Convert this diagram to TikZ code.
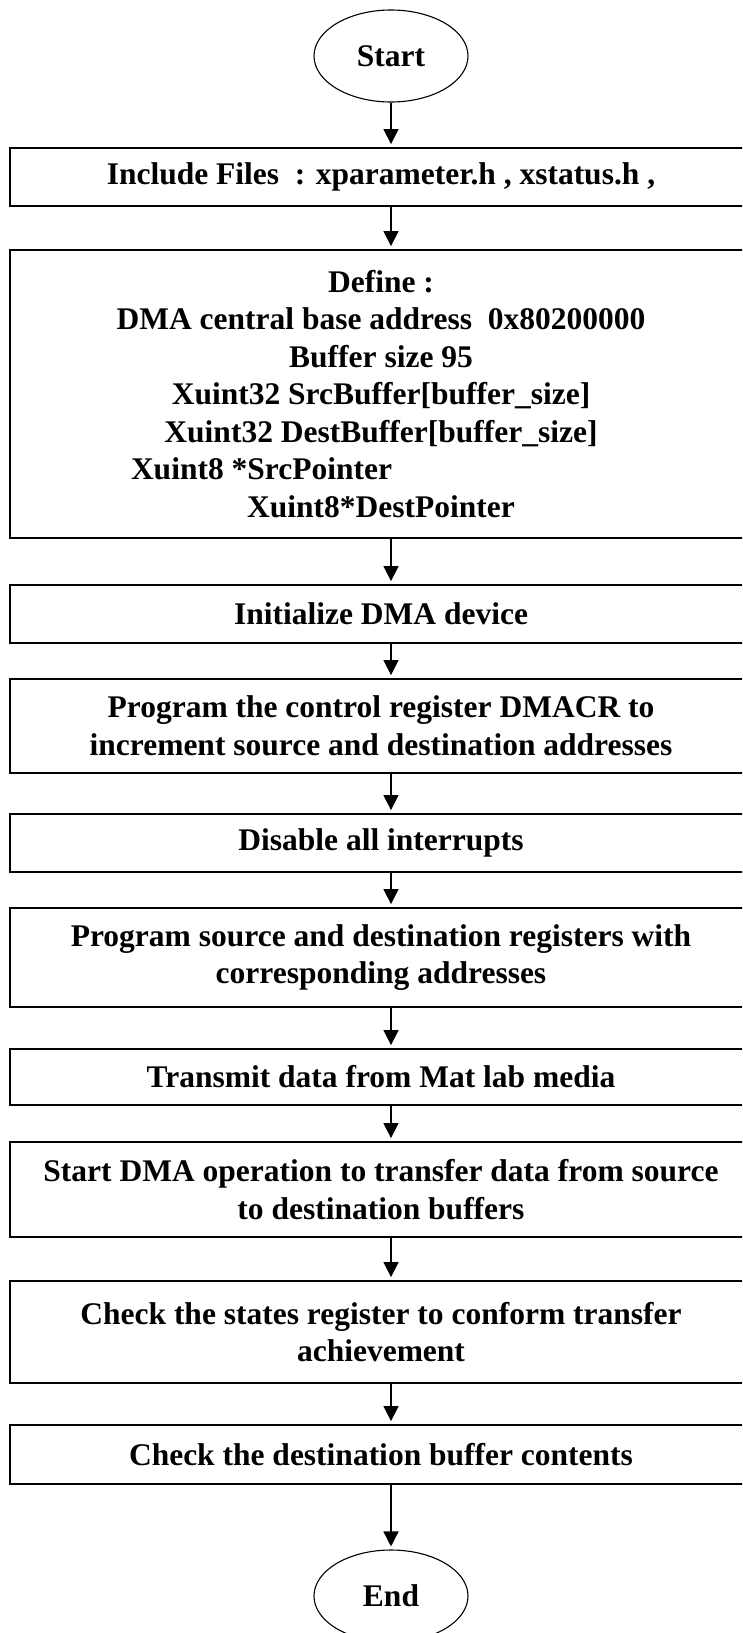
\documentclass[tikz,border=0pt]{standalone}
\usepackage{fontspec}
\setmainfont{Liberation Serif}
\usetikzlibrary{shapes.geometric,arrows.meta}
\begin{document}
\begin{tikzpicture}[x=1pt,y=1pt,
  txt/.style={font=\fontsize{31.5}{37.5}\selectfont\bfseries},
  boxnode/.style={txt,draw,line width=1.8pt,rectangle,minimum width=742pt,inner sep=0pt,align=center},
  term/.style={txt,draw,line width=1.1pt,ellipse,minimum width=154pt,minimum height=92pt,inner sep=0pt},
  arr/.style={line width=1.4pt,-{Triangle[length=15pt,width=15pt]},shorten >=3pt}]
\useasboundingbox (0,0) rectangle (742,-1633);
\clip (0,0) rectangle (742,-1633);
\node[term] (start) at (391,-56) {Start};
\node[boxnode,minimum height=58pt] (b1) at (381,-177) {Include Files\ \ : xparameter.h , xstatus.h ,};
\node[boxnode,minimum height=288pt] (b2) at (381,-394) {Define :\\
DMA central base address\ \ 0x80200000\\
Buffer size 95\\
Xuint32 SrcBuffer[buffer\_size]\\
Xuint32 DestBuffer[buffer\_size]\\
\makebox[500pt][l]{Xuint8 *SrcPointer}\\
Xuint8*DestPointer};
\node[boxnode,minimum height=58pt] (b3) at (381,-614) {Initialize DMA device};
\node[boxnode,minimum height=94pt] (b4) at (381,-726) {Program the control register DMACR to\\increment source and destination addresses};
\node[boxnode,minimum height=58pt] (b5) at (381,-843) {Disable all interrupts};
\node[boxnode,minimum height=99pt] (b6) at (381,-957.5) {Program source and destination registers with\\corresponding addresses};
\node[boxnode,minimum height=56pt] (b7) at (381,-1077) {Transmit data from Mat lab media};
\node[boxnode,minimum height=95pt] (b8) at (381,-1189.5) {Start DMA operation to transfer data from source\\to destination buffers};
\node[boxnode,minimum height=102pt] (b9) at (381,-1332) {Check the states register to conform transfer\\achievement};
\node[boxnode,minimum height=59pt] (b10) at (381,-1454.5) {Check the destination buffer contents};
\node[term] (end) at (391,-1596) {End};
\draw[arr] (start.south) -- (start.south |- b1.north);
\draw[arr] (b1.south -| start) -- (b2.north -| start);
\draw[arr] (b2.south -| start) -- (b3.north -| start);
\draw[arr] (b3.south -| start) -- (b4.north -| start);
\draw[arr] (b4.south -| start) -- (b5.north -| start);
\draw[arr] (b5.south -| start) -- (b6.north -| start);
\draw[arr] (b6.south -| start) -- (b7.north -| start);
\draw[arr] (b7.south -| start) -- (b8.north -| start);
\draw[arr] (b8.south -| start) -- (b9.north -| start);
\draw[arr] (b9.south -| start) -- (b10.north -| start);
\draw[arr] (b10.south -| start) -- (end.north);
\end{tikzpicture}
\end{document}
